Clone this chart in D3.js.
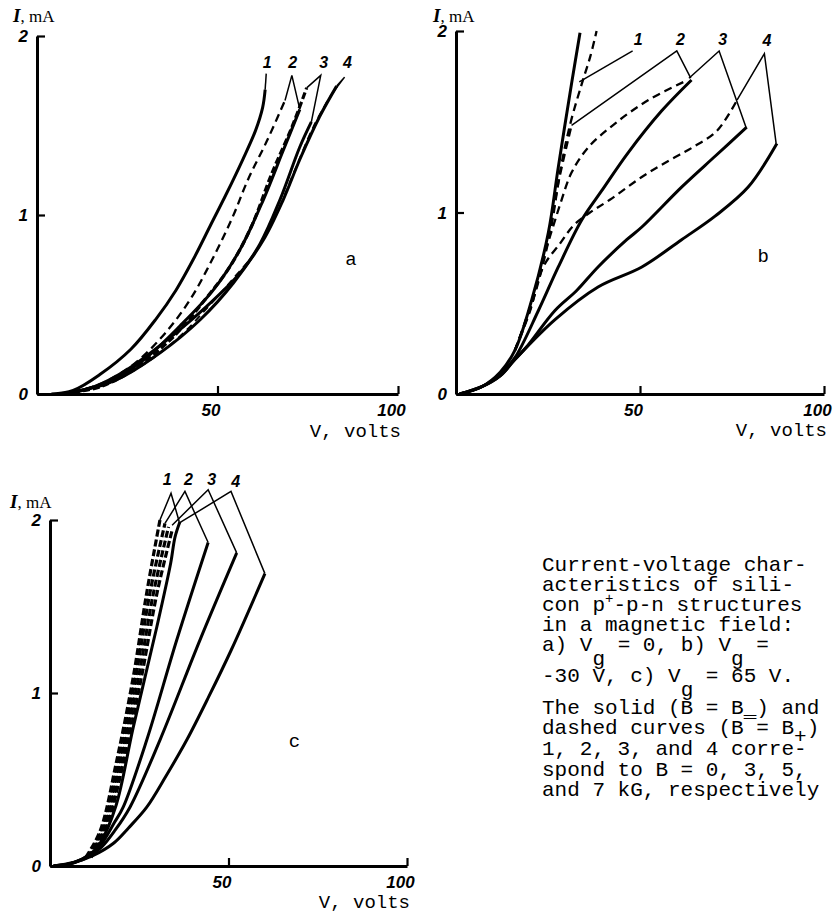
<!DOCTYPE html>
<html><head><meta charset="utf-8">
<script src="https://cdn.jsdelivr.net/npm/d3@7"></script>
<style>body{margin:0;background:#fff}svg{display:block}</style>
</head><body>
<svg id="chart" width="833" height="915"></svg>
<script>
// ---------- data ----------
const xTickValues = [0, 50, 100];
const yTickValues = [0, 1, 2];
const xAxisTitle = "V, volts";
const yAxisUnit = "mA";
const panelNames = ["a", "b", "c"];

// Panel a (Vg = 0) : [V volts, I mA]
const aSolid1 = [[4,0],[10,0.02],[17.5,0.11],[26,0.25],[33,0.42],[38.5,0.58],[43.5,0.76],[48,0.94],[52.5,1.12],[57,1.31],[60.5,1.47],[62.5,1.6],[63.2,1.70]];
const aDash2  = [[10,0.01],[18,0.06],[27,0.17],[35.5,0.34],[42.5,0.53],[48.5,0.75],[54,0.98],[58.5,1.2],[63.6,1.41],[68.7,1.64]];
const aSolid2 = [[6,0],[12,0.02],[19.4,0.06],[29.5,0.19],[39.6,0.38],[48.8,0.58],[56.2,0.806],[62.7,1.085],[68.2,1.36],[72.8,1.59]];
const aDash3  = [[10,0.01],[17.5,0.04],[26.7,0.136],[37.8,0.32],[46.5,0.526],[53.4,0.71],[59.4,0.936],[65,1.23],[70.6,1.49],[74.7,1.71]];
const aSolid3 = [[8,0],[14,0.03],[22.1,0.08],[34.1,0.23],[45.2,0.415],[54.4,0.62],[61.8,0.84],[67.3,1.085],[72.8,1.38],[76,1.52]];
const aDash4  = [[10,0.01],[20,0.06],[30,0.17],[40,0.33],[48,0.5],[55,0.66],[60.8,0.8],[66.4,1.01],[71,1.23],[76.5,1.49],[81.1,1.66]];
const aSolid4 = [[8,0],[15.7,0.04],[24.9,0.136],[35.9,0.30],[47,0.49],[56.2,0.675],[62.7,0.86],[68.2,1.085],[72.8,1.31],[78.3,1.55],[83,1.72]];
const aLeaders = [
  {label:"1", at:[63.8,1.82], pts:[[63.2,1.70],[63.5,1.79]]},
  {label:"2", at:[70.8,1.82], pts:[[68.7,1.64],[70.6,1.78],[72.8,1.59]]},
  {label:"3", at:[79.4,1.82], pts:[[74.7,1.71],[78.6,1.78],[76,1.52]]},
  {label:"4", at:[86.0,1.82], pts:[[81.1,1.66],[85.2,1.77],[83,1.72]]}
];

// Panel b (Vg = -30 V)
const bSolid1 = [[1,0],[7,0.04],[12,0.12],[16,0.24],[20.6,0.52],[25.1,0.89],[27.8,1.25],[31.4,1.71],[33.7,1.99]];
const bDash1  = [[16,0.24],[21,0.52],[25.6,0.89],[28.5,1.25],[31.2,1.5],[34.2,1.71],[36.5,1.86],[38.2,2.0]];
const bDash2  = [[16,0.24],[20.8,0.52],[25.3,0.89],[28.2,1.2],[31.4,1.48]];
const bSolid2 = [[1,0],[7,0.04],[12,0.11],[16,0.2],[22.4,0.46],[27.8,0.70],[34.2,0.96],[39.6,1.12],[46.8,1.33],[55.9,1.56],[64,1.73]];
const bDash3  = [[16,0.24],[20.5,0.5],[24.5,0.8],[26.5,0.93],[28.7,1.07],[31.4,1.22],[36,1.36],[43.2,1.49],[52.3,1.62],[63,1.73]];
const bSolid3 = [[1,0],[7,0.04],[12,0.1],[16,0.19],[19.2,0.26],[26.9,0.46],[32.8,0.57],[38.6,0.70],[46.4,0.85],[50.5,0.92],[61.3,1.14],[70.4,1.31],[79,1.47]];
const bDash4  = [[16,0.24],[20,0.45],[23.7,0.70],[28.3,0.83],[32,0.93],[36.4,1.00],[41.8,1.07],[50.8,1.20],[58.2,1.29],[64.4,1.36],[70.9,1.45],[76.4,1.62]];
const bSolid4 = [[1,0],[7,0.04],[12,0.1],[16,0.19],[26.9,0.41],[38.6,0.59],[50.5,0.70],[61.3,0.85],[70.4,0.98],[79.4,1.14],[87.2,1.38]];
const bLeaders = [
  {label:"1", at:[49.5,1.925], pts:[[33.5,1.72],[48,1.89]]},
  {label:"2", at:[61,1.925], pts:[[31.4,1.48],[60,1.89],[63.8,1.74]]},
  {label:"3", at:[72.5,1.925], pts:[[63.3,1.74],[71.5,1.89],[78.8,1.47]]},
  {label:"4", at:[84.5,1.915], pts:[[76.4,1.62],[83.8,1.875],[87,1.38]]}
];

// Panel c (Vg = 65 V)
const cSolid1 = [[1,0],[5,0.01],[9,0.04],[12,0.08],[14,0.13],[18.5,0.35],[23.3,0.80],[29.9,1.38],[33.8,1.75],[35,1.9],[36.4,1.99]];
const cDash1  = [[10,0.05],[14,0.2],[18.7,0.61],[23.3,1.09],[27.1,1.58],[30.8,2.0]];
const cDash2  = [[10.5,0.05],[14.5,0.2],[19.4,0.61],[24,1.09],[28,1.58],[32.2,1.98]];
const cDash3  = [[11,0.05],[15,0.2],[20,0.61],[24.8,1.09],[29,1.58],[33.2,1.96]];
const cDash4  = [[11.5,0.05],[15.5,0.2],[20.7,0.61],[25.6,1.09],[30,1.58],[34.2,1.94]];
const cSolid2 = [[1,0],[5,0.01],[9,0.04],[12,0.08],[14.5,0.13],[18,0.25],[20.5,0.34],[27.1,0.728],[35.5,1.306],[44.3,1.87]];
const cSolid3 = [[1,0],[5,0.01],[9,0.035],[12,0.07],[14.5,0.11],[18,0.2],[22.4,0.34],[30.8,0.728],[42,1.306],[52.3,1.81]];
const cSolid4 = [[1,0],[6.5,0.02],[12,0.06],[17.7,0.13],[22,0.22],[27.1,0.34],[32.5,0.52],[38.3,0.728],[44.5,0.98],[50.8,1.25],[60.2,1.69]];
const cLeaders = [
  {label:"1", at:[32.8,2.2], pts:[[30.8,2.0],[33.9,2.155],[36.2,1.99]]},
  {label:"2", at:[38.8,2.2], pts:[[32.2,1.98],[37.8,2.165],[44.3,1.87]]},
  {label:"3", at:[45.3,2.2], pts:[[34.2,1.97],[44.3,2.175],[52.3,1.81]]},
  {label:"4", at:[52.0,2.19], pts:[[36,1.98],[50.7,2.165],[60.2,1.69]]}
];

// caption: |x| = superscript, _x_ = subscript letter, ~x~ = subscript sign
const captionLines = [
  "Current-voltage char-",
  "acteristics of sili-",
  "con p|+|-p-n structures",
  "in a magnetic field:",
  "a) V_g_ = 0, b) V_g_ =",
  "-30 V, c) V_g_ = 65 V.",
  "The solid (B = B_) and",
  "dashed curves (B\u00AF= B~+~)",
  "1, 2, 3, and 4 corre-",
  "spond to B = 0, 3, 5,",
  "and 7 kG, respectively"
];

// ---------- drawing ----------
const svg = d3.select("#chart");
const NUMFONT = "'Liberation Sans', Arial, sans-serif";
const MONO = "'Liberation Mono', 'Courier New', monospace";

const panels = [
  {name:panelNames[0], box:{x0:37,x1:398,y0:394,y1:36}, nameAt:[87,0.72],
   series:[
     {d:aSolid1,t:"solid"},{d:aDash2,t:"dash"},{d:aSolid2,t:"solid"},{d:aDash3,t:"dashThick"},
     {d:aSolid3,t:"solid"},{d:aDash4,t:"dashThin"},{d:aSolid4,t:"solid"}],
   leaders:aLeaders, titleY:437, unitAt:[13,22]},
  {name:panelNames[1], box:{x0:456,x1:824,y0:394,y1:31}, nameAt:[83.5,0.73],
   series:[
     {d:bSolid1,t:"solid"},{d:bDash1,t:"dash"},{d:bDash2,t:"dash"},{d:bSolid2,t:"solid"},
     {d:bDash3,t:"dash"},{d:bSolid3,t:"solid"},{d:bDash4,t:"dash"},{d:bSolid4,t:"solid"}],
   leaders:bLeaders, titleY:436, unitAt:[433,22]},
  {name:panelNames[2], box:{x0:50,x1:407,y0:866,y1:520}, nameAt:[68.5,0.69],
   series:[
     {d:cDash1,t:"dashThick"},{d:cDash2,t:"dashThick"},{d:cDash3,t:"dashThick"},{d:cDash4,t:"dashThick"},
     {d:cSolid1,t:"solid"},{d:cSolid2,t:"solid"},{d:cSolid3,t:"solid"},{d:cSolid4,t:"solid"}],
   leaders:cLeaders, titleY:908, unitAt:[10,508]}
];

const styles = {
  solid:{w:3, dash:null},
  dash:{w:2.3, dash:"8,5"},
  dashThick:{w:3.2, dash:"7,3"},
  dashThin:{w:1.8, dash:"7,5"}
};

panels.forEach(p => {
  const x = d3.scaleLinear().domain([0,100]).range([p.box.x0, p.box.x1]);
  const y = d3.scaleLinear().domain([0,2]).range([p.box.y0, p.box.y1]);
  const g = svg.append("g");

  const ya = g.append("g").attr("transform", `translate(${p.box.x0},0)`)
    .call(d3.axisLeft(y).tickValues(yTickValues).tickFormat(d3.format("d")).tickSize(-8).tickSizeOuter(0).tickPadding(9));
  const xa = g.append("g").attr("transform", `translate(0,${p.box.y0})`)
    .call(d3.axisBottom(x).tickValues(xTickValues.filter(v=>v>0)).tickFormat(d3.format("d")).tickSize(-8).tickSizeOuter(0).tickPadding(7));
  [ya, xa].forEach(a => {
    a.select(".domain").attr("stroke","#000").attr("stroke-width",3);
    a.selectAll(".tick line").attr("stroke","#000").attr("stroke-width",2.2);
    a.selectAll(".tick text").attr("fill","#000")
      .style("font-family",NUMFONT).style("font-weight","bold").style("font-style","italic").style("font-size","17px");
  });
  xa.selectAll(".tick text").attr("dy","0.9em").attr("dx",-7);
  ya.selectAll(".tick text").attr("dy","0.35em");

  const line = d3.line().x(d=>x(d[0])).y(d=>y(d[1])).curve(d3.curveCatmullRom.alpha(0.5));
  p.series.forEach(s => {
    const st = styles[s.t];
    g.append("path").datum(s.d).attr("d", line).attr("fill","none").attr("stroke","#000")
      .attr("stroke-width", st.w).attr("stroke-linecap","butt").attr("stroke-linejoin","round")
      .attr("stroke-dasharray", st.dash);
  });

  const lline = d3.line().x(d=>x(d[0])).y(d=>y(d[1]));
  p.leaders.forEach(l => {
    g.append("path").datum(l.pts).attr("d", lline).attr("fill","none").attr("stroke","#000").attr("stroke-width",1.5);
    g.append("text").attr("x", x(l.at[0])).attr("y", y(l.at[1])).attr("text-anchor","middle")
      .style("font-family",NUMFONT).style("font-weight","bold").style("font-style","italic").style("font-size","16px")
      .text(l.label);
  });

  g.append("text").attr("x", x(p.nameAt[0])).attr("y", y(p.nameAt[1])).attr("text-anchor","middle")
    .style("font-family",MONO).style("font-size","19px").text(p.name);

  g.append("text").attr("x", p.box.x1 + 3).attr("y", p.titleY).attr("text-anchor","end")
    .style("font-family",MONO).style("font-size","19px").text(xAxisTitle);

  const yt = g.append("text").attr("x", p.unitAt[0]).attr("y", p.unitAt[1]);
  yt.append("tspan").style("font-family","'Liberation Serif', serif").style("font-weight","bold").style("font-style","italic").style("font-size","19px").text("I");
  yt.append("tspan").style("font-family","'Liberation Serif', serif").style("font-size","17px").text(", " + yAxisUnit);
});

// caption
const capX = 542, capY0 = 571, capDY = [0,20,20,20,20,31,32,20,21,21,20];
let cy = capY0;
captionLines.forEach((ln, i) => {
  if (i>0) cy += capDY[i];
  const t = svg.append("text").attr("x", capX).attr("y", cy)
    .style("font-family",MONO).style("font-size","21px").attr("fill","#000")
    .attr("xml:space","preserve").style("white-space","pre");
  const segs = [];
  const re = /(\|[^|]+\||_[a-z]_|~[^~]+~)/g;
  let last = 0, m;
  while ((m = re.exec(ln)) !== null) {
    if (m.index > last) segs.push({s:ln.slice(last, m.index), off:0});
    const tok = m[0];
    if (tok[0] === "|") segs.push({s:tok.slice(1,-1), off:-8, small:true});
    else if (tok[0] === "_") segs.push({s:tok.slice(1,-1), off:14});
    else segs.push({s:tok.slice(1,-1), off:9});
    last = m.index + tok.length;
  }
  if (last < ln.length) segs.push({s:ln.slice(last), off:0});
  let cur = 0;
  segs.forEach(sg => {
    const ts = t.append("tspan").text(sg.s);
    if (sg.off !== cur) { ts.attr("dy", sg.off - cur); cur = sg.off; }
    if (sg.small) ts.style("font-size","14px");
  });
});
</script>
</body></html>
